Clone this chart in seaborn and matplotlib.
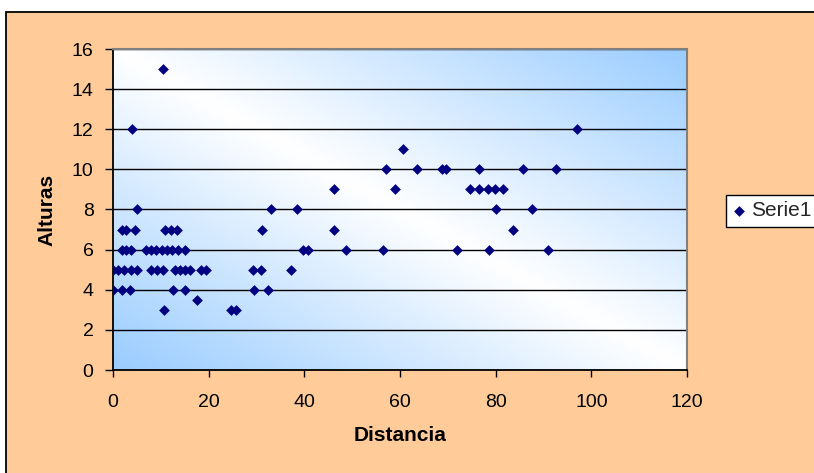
import numpy as np
import pandas as pd
import matplotlib
matplotlib.use("Agg")
import matplotlib.pyplot as plt
from matplotlib.patches import Rectangle
import seaborn as sns

# Measured pairs (distance, height)
distancia = [
    10.4,
    3.9, 96.9,
    60.7,
    57.1, 63.6, 68.8, 69.7, 76.5, 85.8, 92.6,
    46.3, 58.9, 74.6, 76.5, 78.5, 79.9, 81.6,
    5.1, 33.1, 38.5, 80.1, 87.6,
    1.8, 2.8, 4.6, 10.9, 12.1, 13.3, 31.2, 46.3, 83.7,
    1.8, 2.8, 3.7, 7.0, 8.0, 9.0, 10.3, 11.3, 12.3, 13.5, 15.1, 39.7, 40.7,
    48.8, 56.4, 71.9, 78.6, 90.9,
    0.1, 1.1, 2.2, 3.8, 5.0, 8.0, 9.2, 10.5, 13.0, 14.0, 15.0, 16.2, 18.3,
    19.4, 29.3, 31.0, 37.3,
    0.1, 1.8, 3.5, 12.5, 15.0, 29.5, 32.4,
    17.5,
    10.7, 24.6, 25.8,
]
alturas = [
    15,
    12, 12,
    11,
    10, 10, 10, 10, 10, 10, 10,
    9, 9, 9, 9, 9, 9, 9,
    8, 8, 8, 8, 8,
    7, 7, 7, 7, 7, 7, 7, 7, 7,
    6, 6, 6, 6, 6, 6, 6, 6, 6, 6, 6, 6, 6,
    6, 6, 6, 6, 6,
    5, 5, 5, 5, 5, 5, 5, 5, 5, 5, 5, 5, 5,
    5, 5, 5, 5,
    4, 4, 4, 4, 4, 4, 4,
    3.5,
    3, 3, 3,
]
x_ticks = [0, 20, 40, 60, 80, 100, 120]
y_ticks = [0, 2, 4, 6, 8, 10, 12, 14, 16]

df = pd.DataFrame({"Distancia": distancia, "Alturas": alturas})

sns.set_theme(style="white")
plt.rcParams["font.family"] = ["Liberation Sans", "DejaVu Sans"]

W, H = 814, 473
fig = plt.figure(figsize=(W / 100, H / 100), dpi=100, facecolor="white")

# Chart area: peach panel with black frame, behind everything else
fig.patches.append(Rectangle((6 / W, -0.05), 1.2, (H - 12) / H + 0.05,
                             transform=fig.transFigure, facecolor="#FFCC99",
                             edgecolor="black", linewidth=1.3, zorder=-10))

ax = fig.add_axes([113 / W, (H - 370) / H, (687 - 113) / W, (370 - 49) / H])
ax.set_facecolor("none")

# Diagonal gradient background: white along the TL-BR diagonal, blue at the other corners
nu, nv = 400, 240
u = np.linspace(0, 1, nu)[None, :]
v = np.linspace(0, 1, nv)[:, None]
t = np.abs(u - v)
white = np.array([1.0, 1.0, 1.0])
blue = np.array([153, 204, 255]) / 255.0
img = white[None, None, :] * (1 - t[..., None]) + blue[None, None, :] * t[..., None]
ax.imshow(img, extent=(0, 120, 0, 16), origin="upper", aspect="auto",
          zorder=0, interpolation="bilinear")

sns.scatterplot(data=df, x="Distancia", y="Alturas", marker="D", color="#000080",
                s=30, linewidth=0, label="Serie1", ax=ax, zorder=3)

ax.set_xlim(0, 120)
ax.set_ylim(0, 16)
ax.set_xticks(x_ticks)
ax.set_yticks(y_ticks)
ax.set_xticklabels([str(v) for v in x_ticks])
ax.set_yticklabels([str(v) for v in y_ticks])

ax.set_axisbelow(True)
ax.yaxis.grid(True, color="black", linewidth=1.0)
ax.xaxis.grid(False)

for side in ("left", "bottom"):
    ax.spines[side].set_color("black")
    ax.spines[side].set_linewidth(1.3)
for side in ("top", "right"):
    ax.spines[side].set_color("#808080")
    ax.spines[side].set_linewidth(1.5)

ax.tick_params(axis="both", which="major", direction="out", width=1,
               color="black", labelcolor="black", labelsize=14)
ax.tick_params(axis="y", left=True, length=6, pad=8)
ax.tick_params(axis="x", bottom=True, length=5, pad=12)

ax.set_xlabel("Distancia", fontsize=15, fontweight="bold", color="black")
ax.set_ylabel("Alturas", fontsize=15, fontweight="bold", color="black")
ax.xaxis.label.set_va("center")
ax.yaxis.label.set_va("center")
ax.xaxis.set_label_coords(0.5, (370 - 435) / 321)
ax.yaxis.set_label_coords((47 - 113) / 574, 0.5)

leg = ax.legend(loc="center left", bbox_to_anchor=(726 / W, 1 - 211 / H),
                bbox_transform=fig.transFigure, frameon=True, fancybox=False,
                framealpha=1, edgecolor="black", facecolor="white",
                fontsize=15, borderaxespad=0, borderpad=0.3,
                handlelength=0.6, handletextpad=0.3, markerscale=1.0)
leg.get_frame().set_linewidth(1.0)

fig.savefig("out.png", dpi=100, facecolor="white")
